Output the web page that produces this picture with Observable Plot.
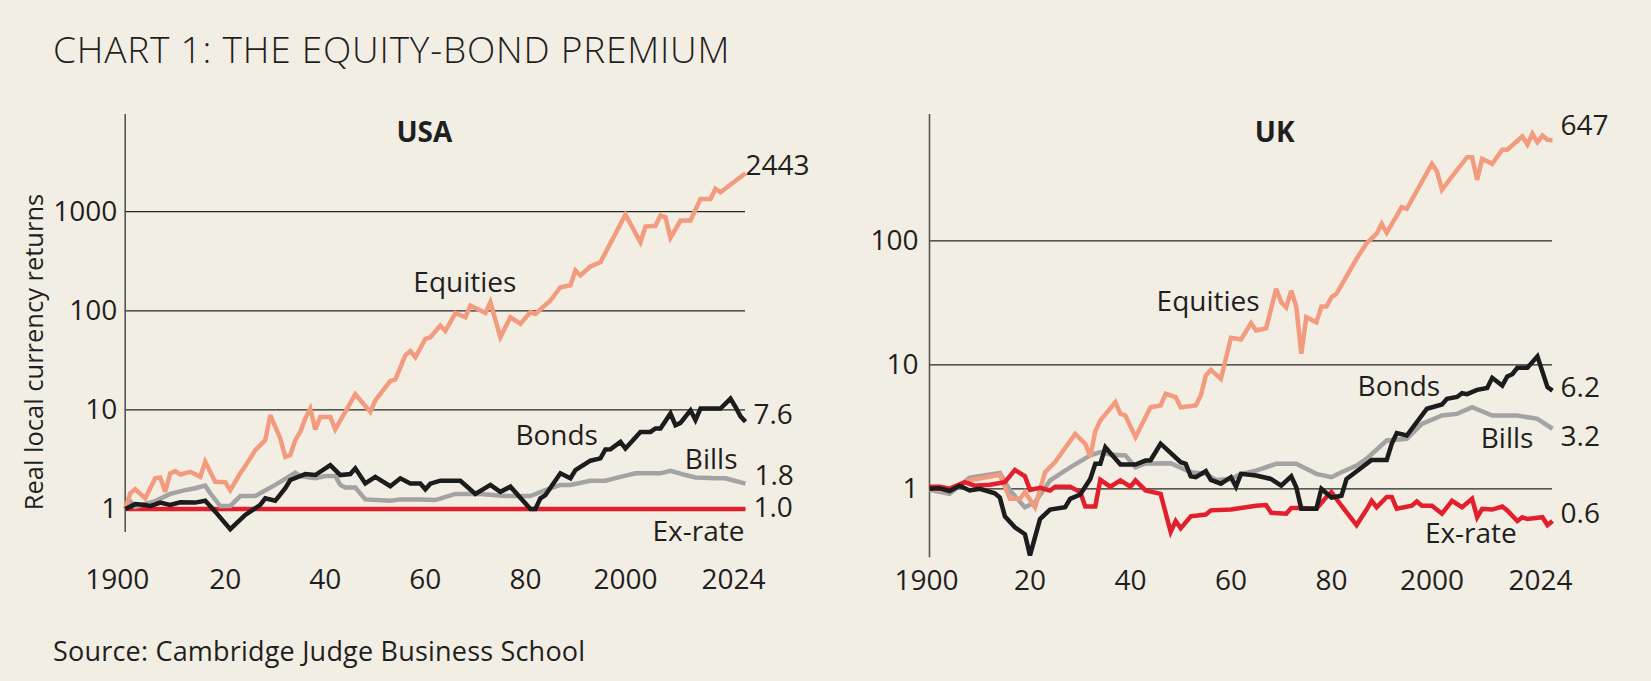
<!DOCTYPE html>
<html>
<head>
<meta charset="utf-8">
<script src="https://cdn.jsdelivr.net/npm/d3@7"></script>
<script src="https://cdn.jsdelivr.net/npm/@observablehq/plot@0.6"></script>
<style>
  html, body { margin: 0; padding: 0; }
  body { width: 1651px; height: 681px; background: #F3EEE3; position: relative; overflow: hidden;
         font-family: 'Open Sans', sans-serif; color: #1f1f1f; }
  #title { position: absolute; left: 53px; top: 30px; font-size: 37px; line-height: 1; font-weight: 300; letter-spacing: 0.8px; white-space: nowrap; }
  #source { position: absolute; left: 53px; top: 637px; font-size: 27px; line-height: 1; font-weight: 400; letter-spacing: 0.2px; white-space: nowrap; }
  #ytitle { position: absolute; left: 34px; top: 352px; font-size: 25.5px; line-height: 1; white-space: nowrap;
            transform: translate(-50%, -50%) rotate(-90deg); }
  #usa { position: absolute; left: 0; top: 100px; }
  #uk { position: absolute; left: 825px; top: 100px; }
</style>
</head>
<body>
<div id="title">CHART 1: THE EQUITY-BOND PREMIUM</div>
<div id="ytitle">Real local currency returns</div>
<div id="usa"></div>
<div id="uk"></div>
<div id="source">Source: Cambridge Judge Business School</div>
<script>
// ---------- DATA ----------
const seriesNames = ["Equities", "Bonds", "Bills", "Ex-rate"];
const seriesColors = ["#F29B7E", "#1c1c1c", "#A3A3A3", "#E21F2C"];
const xTicksFirst = [1900];
const xTicks = [1920, 1940, 1960, 1980, 2000];
const xTickLast = [2024];

// USA
const usaEquityYears = [1900,1901,1902,1904,1906,1907,1908,1909,1910,1911,1913,1915,1916,1918,1920,1921,1923,1924,1926,1928,1929,1931,1932,1933,1934,1935,1936,1937,1938,1939,1941,1942,1946,1949,1950,1953,1954,1956,1957,1958,1960,1961,1963,1964,1966,1968,1969,1972,1973,1975,1977,1979,1981,1982,1985,1987,1989,1990,1991,1993,1995,2000,2003,2004,2006,2007,2008,2009,2011,2013,2015,2017,2018,2019,2024];
const usaEquityValues = [1.0,1.44,1.58,1.28,2.04,2.08,1.49,2.29,2.41,2.23,2.37,2.11,2.99,1.88,1.86,1.55,2.29,2.71,3.93,4.95,8.85,5.15,3.36,3.5,4.95,6.0,8.2,10.3,6.35,8.5,8.5,6.35,14.4,9.55,12.5,19.6,20.2,35.6,39.3,34,52,54,71,62.5,95,86,113,95,122,54,86,74,97,93,127,173,181,255,227,280,309,935,492,708,720,914,880,545,814,814,1346,1346,1700,1570,2443];
const usaBondYears = [1900,1902,1904,1905,1907,1909,1911,1914,1916,1918,1921,1924,1927,1928,1930,1932,1933,1936,1938,1941,1943,1945,1946,1948,1950,1953,1955,1957,1959,1960,1961,1963,1967,1970,1973,1975,1977,1981,1982,1983,1984,1987,1989,1990,1993,1995,1996,1997,1999,2000,2003,2005,2006,2007,2009,2010,2011,2013,2014,2015,2019,2021,2022,2023,2024];
const usaBondValues = [1.0,1.12,1.1,1.07,1.16,1.1,1.17,1.16,1.21,0.94,0.625,0.87,1.1,1.28,1.21,1.62,1.96,2.25,2.2,2.77,2.2,2.25,2.57,1.81,2.11,1.7,2.04,1.81,1.81,1.58,1.8,1.93,1.93,1.42,1.75,1.49,1.68,1.0,1.0,1.28,1.38,2.29,2.04,2.47,3.07,3.24,3.99,4.0,4.76,4.08,6.0,6.0,6.5,6.5,9.2,7.0,7.4,9.9,7.9,10.3,10.3,13,10.7,8.6,7.6];
const usaBillYears = [1900,1901,1902,1906,1909,1912,1914,1916,1917,1919,1921,1923,1926,1930,1934,1935,1938,1940,1942,1943,1944,1946,1948,1953,1955,1959,1962,1966,1971,1976,1981,1984,1987,1989,1993,1996,1999,2002,2007,2009,2012,2014,2018,2020,2024];
const usaBillValues = [1.0,1.2,1.05,1.2,1.42,1.55,1.62,1.72,1.44,1.07,1.07,1.35,1.35,1.75,2.32,2.15,2.04,2.15,2.15,1.75,1.65,1.65,1.25,1.21,1.25,1.25,1.23,1.42,1.42,1.35,1.35,1.55,1.75,1.75,1.93,1.93,2.11,2.29,2.29,2.43,2.2,2.08,2.04,2.04,1.8];
const usaFxYears = [1900, 2024];
const usaFxValues = [1.0, 1.0];
const usaYTicks = [1, 10, 100, 1000];
const usaGrid = [10, 100, 1000];
const usaEndText = ["2443", "7.6", "1.8", "1.0"];
const usaEndValues = [2443, 7.6, 1.8, 1.0];

// UK
const ukEquityYears = [1900,1903,1908,1914,1916,1918,1919,1921,1923,1925,1929,1931,1932,1933,1934,1937,1938,1939,1941,1944,1946,1947,1949,1950,1953,1954,1955,1956,1958,1960,1962,1964,1965,1967,1969,1970,1971,1972,1973,1974,1975,1977,1978,1979,1980,1981,1985,1987,1989,1990,1991,1994,1995,2000,2001,2002,2004,2007,2008,2009,2010,2012,2014,2015,2018,2019,2020,2021,2022,2023,2024];
const ukEquityValues = [1.0,0.97,1.17,1.3,0.83,0.83,0.94,0.71,1.36,1.64,2.77,2.31,1.82,2.91,3.56,4.99,4.03,3.9,2.61,4.55,4.7,5.83,5.5,4.55,4.7,5.65,8.2,9.1,7.7,16.5,16,21.7,18.9,19.7,41,32,29,39.7,29.5,12.3,24.2,22,29.5,29.5,35,37.4,71.6,95.7,114,137,116,187,181,418,364,258,330,472,472,310,458,418,542,542,694,598,729,623,706,653,647];
const ukBondYears = [1900,1902,1904,1906,1908,1910,1913,1914,1915,1917,1919,1920,1922,1924,1927,1928,1930,1932,1933,1934,1935,1937,1938,1941,1943,1944,1946,1950,1951,1952,1953,1955,1956,1958,1960,1961,1962,1965,1968,1970,1972,1973,1974,1977,1978,1980,1982,1983,1988,1991,1992,1993,1995,1999,2002,2003,2005,2006,2007,2009,2011,2012,2014,2015,2016,2017,2019,2021,2023,2024];
const ukBondValues = [1.0,1.01,0.96,1.06,0.97,1.0,0.92,0.85,0.6,0.49,0.43,0.29,0.57,0.68,0.71,0.83,0.9,1.2,1.59,1.59,2.16,1.75,1.57,1.57,1.69,1.7,2.31,1.64,1.59,1.26,1.24,1.39,1.18,1.1,1.24,1.04,1.32,1.28,1.2,1.06,1.26,1.03,0.69,0.69,1.0,0.85,0.88,1.2,1.71,1.71,2.31,2.81,2.69,4.42,4.79,5.32,5.5,5.9,5.8,6.28,6.5,7.85,6.8,8.06,8.4,9.46,9.46,11.7,6.6,6.2];
const ukBillYears = [1900,1904,1908,1914,1916,1919,1921,1924,1928,1932,1934,1936,1939,1941,1943,1948,1952,1955,1957,1960,1962,1965,1969,1973,1977,1980,1982,1985,1987,1991,1995,1998,2002,2005,2008,2012,2017,2021,2024];
const ukBillValues = [0.98,0.91,1.23,1.34,0.97,0.71,0.78,1.17,1.49,1.86,1.98,1.89,1.86,1.49,1.6,1.61,1.36,1.32,1.18,1.2,1.32,1.4,1.59,1.59,1.32,1.24,1.36,1.54,1.75,2.45,2.53,3.34,3.9,4.02,4.55,3.9,3.9,3.67,3.05];
const ukFxYears = [1900,1902,1904,1907,1909,1912,1915,1917,1919,1920,1922,1924,1925,1928,1930,1931,1933,1934,1936,1938,1940,1941,1943,1946,1948,1949,1950,1952,1955,1956,1960,1963,1965,1967,1968,1971,1972,1974,1977,1979,1980,1982,1985,1987,1988,1989,1991,1992,1993,1996,1997,1998,2000,2002,2004,2006,2008,2009,2010,2012,2014,2015,2017,2018,2019,2022,2023,2024];
const ukFxValues = [1.04,1.04,1.0,1.13,1.06,1.08,1.13,1.42,1.26,0.98,1.02,0.97,1.04,1.04,0.94,0.72,0.72,1.18,1.04,1.17,1.04,1.17,0.97,0.91,0.45,0.55,0.48,0.6,0.62,0.67,0.68,0.71,0.73,0.74,0.64,0.63,0.7,0.7,0.69,0.86,0.94,0.73,0.51,0.68,0.8,0.71,0.86,0.86,0.69,0.73,0.79,0.73,0.73,0.63,0.8,0.71,0.83,0.59,0.69,0.68,0.72,0.67,0.55,0.59,0.57,0.59,0.51,0.55];
const ukYTicks = [1, 10, 100];
const ukGrid = [1, 10, 100];
const ukEndText = ["647", "6.2", "3.2", "0.6"];
const ukEndValues = [647, 6.2, 3.2, 0.6];

// ---------- BUILD ----------
const rows = (years, values, series) => years.map((year, i) => ({year, value: values[i], series}));
const FONT = "'Open Sans', sans-serif";
const INK = "#1f1f1f";
const FS = 28;

function lineMark(data) {
  return Plot.line(data, {x: "year", y: "value", stroke: "series", strokeWidth: 4.5,
    strokeLinejoin: "miter", strokeMiterlimit: 3, strokeLinecap: "butt"});
}
function label(text, x, y, opts = {}) {
  return Plot.text([{x, y}], {x: "x", y: "y", text: () => text, fill: INK, fontSize: FS,
    lineAnchor: "middle", textAnchor: "start", ...opts});
}
const fmtYear = d => (d === 1900 || d === 2000 || d === 2024) ? String(d) : String(d % 100).padStart(2, "0");

function panel(cfg) {
  const axisX = (ticks, dx) => Plot.axisX({ticks, tickSize: 0, tickPadding: cfg.xPad, fontSize: FS,
    label: null, tickFormat: fmtYear, fill: INK, dx});
  const marks = [
    Plot.ruleY(cfg.grid, {stroke: "#262626", strokeWidth: 1.3}),
    Plot.ruleX([1900], {stroke: "#555", strokeWidth: 1.6}),
    ...cfg.order.map(s => lineMark(cfg.series[s])),
    axisX(xTicksFirst, cfg.firstDx),
    axisX(xTicks, 0),
    axisX(xTickLast, -12),
    Plot.axisY({ticks: cfg.yTicks, tickSize: 0, tickPadding: cfg.yPad, fontSize: FS, label: null,
      tickFormat: d => String(d), fill: INK}),
    ...cfg.labels
  ];
  return Plot.plot({
    width: cfg.width, height: 500,
    marginLeft: cfg.ml, marginRight: cfg.mr, marginTop: 14, marginBottom: cfg.mb,
    x: {domain: [1900, 2024]},
    y: {type: "log", domain: cfg.yDomain},
    color: {domain: seriesNames, range: seriesColors},
    style: {background: "transparent", fontFamily: FONT, color: INK, overflow: "visible"},
    marks
  });
}

const usaSeries = {
  "Equities": rows(usaEquityYears, usaEquityValues, "Equities"),
  "Bonds": rows(usaBondYears, usaBondValues, "Bonds"),
  "Bills": rows(usaBillYears, usaBillValues, "Bills"),
  "Ex-rate": rows(usaFxYears, usaFxValues, "Ex-rate")
};
const ukSeries = {
  "Equities": rows(ukEquityYears, ukEquityValues, "Equities"),
  "Bonds": rows(ukBondYears, ukBondValues, "Bonds"),
  "Bills": rows(ukBillYears, ukBillValues, "Bills"),
  "Ex-rate": rows(ukFxYears, ukFxValues, "Ex-rate")
};

// end labels are placed in data space just past 2024 (label positions, not data)
const usaPlot = panel({
  width: 825, ml: 124.7, mr: 80, mb: 68, xPad: 37, yPad: 8, firstDx: -8,
  yDomain: [0.579, 9572], yTicks: usaYTicks, grid: usaGrid,
  series: usaSeries, order: ["Ex-rate", "Bills", "Equities", "Bonds"],
  labels: [
    label("USA", 1959.8, 6152, {textAnchor: "middle", fontWeight: 700}),
    label(usaEndText[0], 2024, usaEndValues[0] * 1.17),
    label(usaEndText[1], 2025.6, usaEndValues[1] * 1.155),
    label(usaEndText[2], 2025.8, usaEndValues[2] * 1.2),
    label(usaEndText[3], 2025.6, usaEndValues[3] * 1.03),
    label(seriesNames[0], 1957.6, 190),
    label(seriesNames[1], 1978.0, 5.39),
    label(seriesNames[2], 2022.4, 3.15, {textAnchor: "end"}),
    label(seriesNames[3], 2023.8, 0.583, {textAnchor: "end"})
  ]
});
const ukPlot = panel({
  width: 826, ml: 104, mr: 99, mb: 42.7, xPad: 12, yPad: 11, firstDx: -3,
  yDomain: [0.2777, 1043.6], yTicks: ukYTicks, grid: ukGrid,
  series: ukSeries, order: ["Bills", "Equities", "Ex-rate", "Bonds"],
  labels: [
    label("UK", 1968.7, 733, {textAnchor: "middle", fontWeight: 700}),
    label(ukEndText[0], 2025.6, ukEndValues[0] * 1.3),
    label(ukEndText[1], 2025.6, ukEndValues[1] * 1.04),
    label(ukEndText[2], 2025.6, ukEndValues[2] * 0.815),
    label(ukEndText[3], 2025.6, ukEndValues[3] * 1.05),
    label(seriesNames[0], 1945.2, 32),
    label(seriesNames[1], 1985.2, 6.62),
    label(seriesNames[2], 2020.2, 2.53, {textAnchor: "end"}),
    label(seriesNames[3], 1998.6, 0.434)
  ]
});
document.getElementById("usa").appendChild(usaPlot);
document.getElementById("uk").appendChild(ukPlot);
</script>
</body>
</html>
